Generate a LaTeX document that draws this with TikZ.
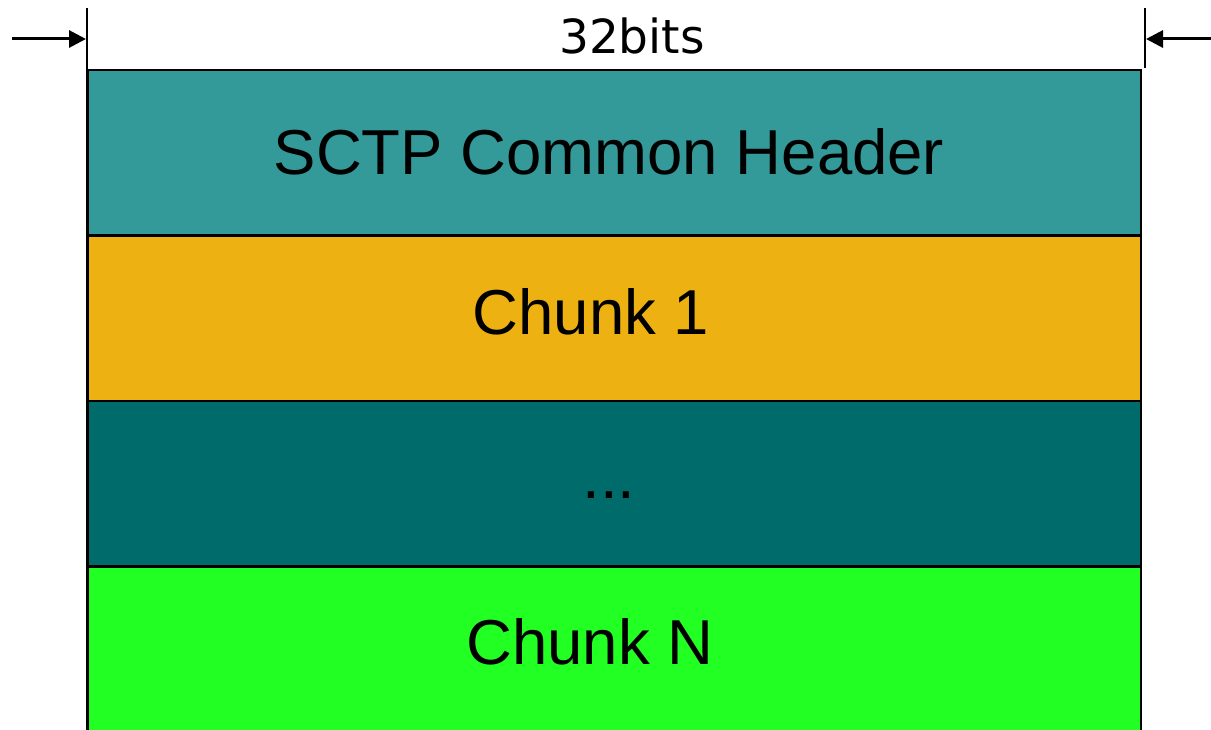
\documentclass[tikz,border=0pt]{standalone}
\usepackage{fontspec}
\setmainfont{Liberation Sans}
\newfontfamily\dejavu{DejaVu Sans}
\usetikzlibrary{arrows.meta}
\definecolor{hdrteal}{RGB}{51,153,153}
\definecolor{chunkgold}{RGB}{237,178,17}
\definecolor{darkteal}{RGB}{0,107,107}
\definecolor{chunkgreen}{RGB}{34,255,34}
\tikzset{
  layer/.style={draw=black, line width=2pt, minimum width=1053pt, minimum height=165pt,
    inner sep=0pt, anchor=north west},
  layertext/.style={font=\fontsize{63.5}{70}\selectfont, text=black, inner sep=0pt},
  dimarrow/.style={line width=3pt, -{Triangle[length=17pt,width=17pt]}},
  tick/.style={line width=2pt}
}
\begin{document}
\begin{tikzpicture}[x=1pt,y=-1pt]
  \useasboundingbox (0,0) rectangle (1211,730);
  \clip (0,0) rectangle (1211,730);
  % stacked packet layers
  \node[layer, fill=hdrteal]    (hdr)  at (87,69)  {};
  \node[layer, fill=chunkgold]  (c1)   at (87,235) {};
  \node[layer, fill=darkteal]   (mid)  at (87,400) {};
  \node[layer, fill=chunkgreen] (cn)   at (87,566) {};
  % layer labels
  \node[layertext] (thdr) at (609,152) {SCTP Common Header};
  \node[layertext] (tc1)  at (591,312) {Chunk 1};
  \node[layertext] (tmid) at (609,495) {...};
  \node[layertext] (tcn)  at (590,642) {Chunk N};
  % width dimension
  \coordinate (ltop) at (87,8);
  \coordinate (lbot) at (87,730);
  \coordinate (rtop) at (1145,8);
  \coordinate (rbot) at (1145,68);
  \draw[tick] (ltop) -- (lbot);
  \draw[tick] (rtop) -- (rbot);
  \coordinate (lstart) at (12,39);
  \coordinate (lend) at (86,39);
  \coordinate (rstart) at (1211,39);
  \coordinate (rend) at (1146,39);
  \draw[dimarrow] (lstart) -- (lend);
  \draw[dimarrow] (rstart) -- (rend);
  \node[font=\dejavu\fontsize{47}{52}\selectfont, inner sep=0pt] (width) at (632,36) {32bits};
\end{tikzpicture}
\end{document}
